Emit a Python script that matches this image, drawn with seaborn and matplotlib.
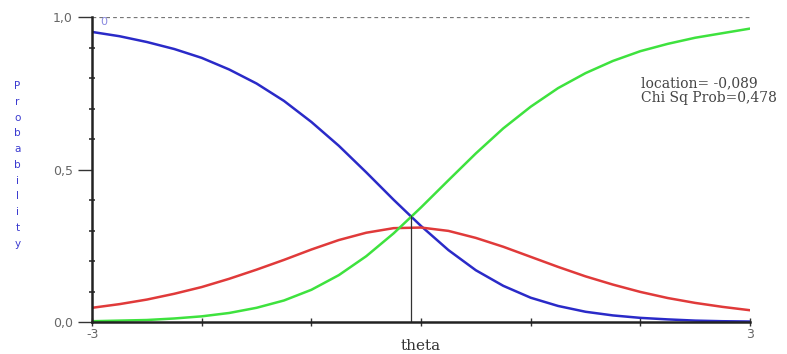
import numpy as np
import pandas as pd
import matplotlib
matplotlib.use("Agg")
import matplotlib.pyplot as plt
import seaborn as sns

# ---- data ----
theta = [-3.0, -2.75, -2.5, -2.25, -2.0, -1.75, -1.5, -1.25, -1.0, -0.75, -0.5, -0.25,
         0.0, 0.25, 0.5, 0.75, 1.0, 1.25, 1.5, 1.75, 2.0, 2.25, 2.5, 2.75, 3.0]
cat0 = [0.951, 0.937, 0.918, 0.895, 0.866, 0.828, 0.782, 0.725, 0.656, 0.578, 0.491, 0.401,
        0.315, 0.236, 0.170, 0.119, 0.080, 0.053, 0.034, 0.022, 0.014, 0.009, 0.005, 0.003, 0.002]
cat1 = [0.047, 0.059, 0.074, 0.093, 0.115, 0.142, 0.172, 0.204, 0.238, 0.269, 0.293, 0.308,
        0.310, 0.299, 0.276, 0.247, 0.214, 0.181, 0.150, 0.123, 0.099, 0.079, 0.063, 0.050, 0.039]
cat2 = [0.003, 0.005, 0.007, 0.012, 0.019, 0.030, 0.047, 0.071, 0.106, 0.154, 0.216, 0.291,
        0.376, 0.465, 0.553, 0.635, 0.706, 0.767, 0.816, 0.856, 0.888, 0.912, 0.932, 0.947, 0.962]
categories = ["0", "1", "2"]
location = -0.089
crossing_prob = 0.35
chi_sq_prob = "0,478"
location_label = "-0,089"
ytick_vals = [0.0, 0.5, 1.0]
ytick_labels = ["0,0", "0,5", "1,0"]
xtick_vals = [-3, 3]
xtick_labels = ["-3", "3"]

df = pd.DataFrame({
    "theta": theta * 3,
    "prob": cat0 + cat1 + cat2,
    "cat": [categories[0]] * len(theta) + [categories[1]] * len(theta) + [categories[2]] * len(theta),
})

sns.set_theme(style="white")
plt.rcParams["font.family"] = ["DejaVu Sans"]

fig = plt.figure(figsize=(7.87, 3.54), dpi=100)
ax = fig.add_axes([0.117, 0.090, 0.836, 0.862])

palette = {"0": "#2a2ac8", "1": "#e03a3a", "2": "#3ee23e"}
sns.lineplot(data=df, x="theta", y="prob", hue="cat", palette=palette,
             linewidth=1.8, legend=False, ax=ax)

# dashed line at 1
ax.plot([-3, 3], [1, 1], linestyle=(0, (3, 2.5)), color="#777777", linewidth=0.9)
# location line
ax.vlines(location, 0, crossing_prob, color="#333333", linewidth=0.9)

ax.set_xlim(-3, 3.0)
ax.set_ylim(0, 1.0)
for s in ["top", "right"]:
    ax.spines[s].set_visible(False)
for s in ["left", "bottom"]:
    ax.spines[s].set_color("#222222")
    ax.spines[s].set_linewidth(1.8)

ax.set_yticks(ytick_vals)
ax.set_yticklabels(ytick_labels, fontsize=9, color="#666666", family="DejaVu Sans")
ax.set_yticks(np.arange(0.1, 1.0, 0.1), minor=True)
ax.set_xticks(xtick_vals)
ax.set_xticklabels(xtick_labels, fontsize=9, color="#666666", family="DejaVu Sans")
ax.set_xticks([-2, -1, 0, 1, 2], minor=True)
ax.tick_params(axis="y", which="major", direction="out", length=10, width=1, color="#333333", pad=4)
ax.tick_params(axis="y", which="minor", direction="inout", length=5, width=1.2, color="#333333")
ax.tick_params(axis="x", which="major", direction="inout", length=6, width=1, color="#333333", pad=1)
ax.tick_params(axis="x", which="minor", direction="inout", length=6, width=1, color="#333333")
ax.tick_params(left=True, bottom=True)
ax.tick_params(axis="y", which="minor", left=True)
ax.tick_params(axis="x", which="minor", bottom=True)

ax.set_xlabel("theta", fontsize=11, family="DejaVu Serif", color="#333333", labelpad=-1)
ax.set_ylabel("")
fig.text(0.022, 0.534, "\n".join("Probability"), color="#3a3ad0", fontsize=7.5,
         ha="center", va="center", linespacing=1.72, family="DejaVu Sans")

ax.text(0.835, 0.76, "location= " + location_label + "\nChi Sq Prob=" + chi_sq_prob,
        transform=ax.transAxes, fontsize=10, family="DejaVu Serif", color="#444444",
        ha="left", va="center", linespacing=1.05)
ax.text(-2.93, 0.985, categories[0], color="#8888e0", fontsize=8, ha="left", va="center")

fig.savefig("out.png", dpi=100)
